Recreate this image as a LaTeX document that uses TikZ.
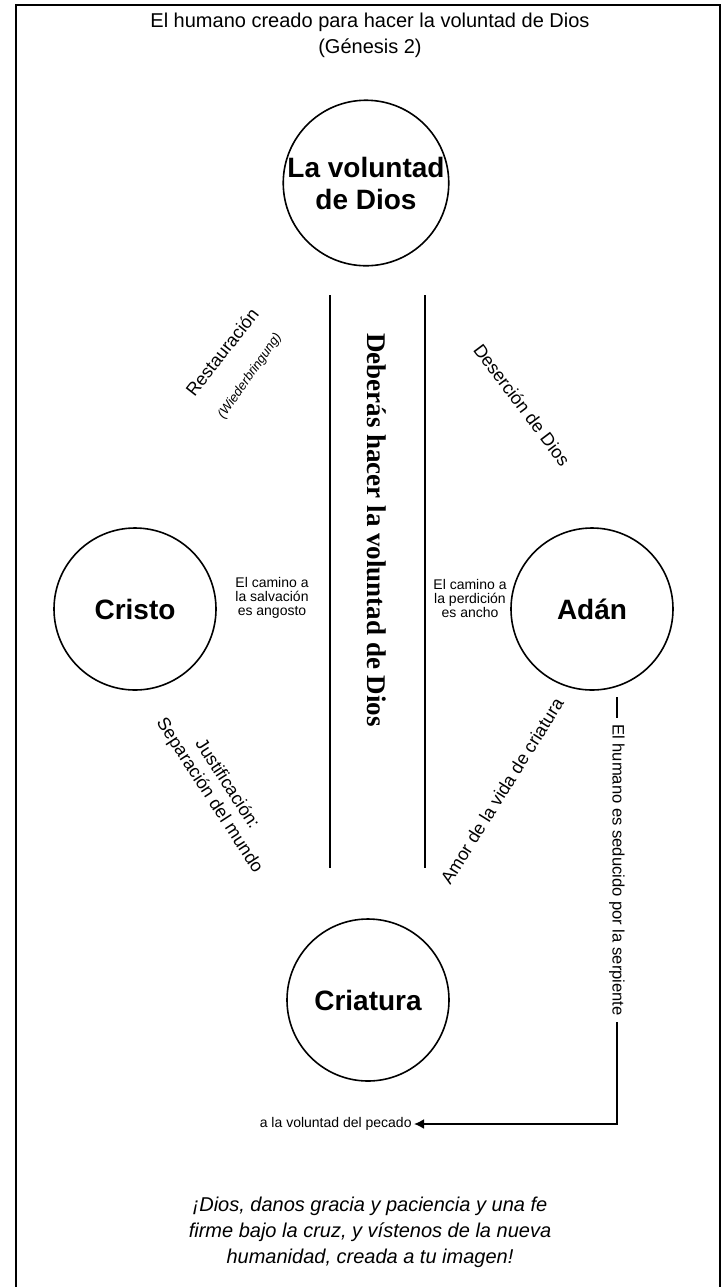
\documentclass[tikz,border=0pt]{standalone}
\usepackage{fontspec}
\setmainfont{Liberation Sans}
\newfontfamily\serifbold{Liberation Serif}
\usetikzlibrary{arrows.meta}
\begin{document}
\begin{tikzpicture}[x=0.5pt,y=-0.5pt,
  circ/.style={circle, draw, line width=0.8pt, minimum size=81pt, inner sep=0pt,
    font=\bfseries\fontsize{14}{16}\selectfont, align=center},
  lbl/.style={font=\fontsize{9}{10.5}\selectfont, inner sep=1pt},
  small/.style={font=\fontsize{7}{7}\selectfont, align=center, inner sep=1pt},
  rail/.style={line width=1pt},
  link/.style={line width=0.9pt}]
\useasboundingbox (0,0) rectangle (722,1287);
\draw[line width=1pt] (16,1287) -- (16,5) -- (720,5) -- (720,1287);

\node[font=\fontsize{10}{13}\selectfont, align=center] (title) at (370,35)
  {El humano creado para hacer la voluntad de Dios\\(Génesis 2)};

\node[circ] (dios) at (366,183) {La voluntad\\de Dios};
\node[circ] (cristo) at (135,609) {Cristo};
\node[circ] (adan) at (592,609) {Adán};
\node[circ] (criatura) at (368,1000) {Criatura};

\coordinate (la) at (330,295); \coordinate (lb) at (330,868);
\coordinate (ra) at (425,295); \coordinate (rb) at (425,868);
\draw[rail] (la) -- (lb);
\draw[rail] (ra) -- (rb);

\node[rotate=-90, font=\serifbold\bfseries\fontsize{13.5}{16}\selectfont] (must) at (377,530)
  {Deberás hacer la voluntad de Dios};

\node[lbl, rotate=52] (rest) at (222,352) {Restauración};
\node[font=\itshape\fontsize{6.5}{8}\selectfont, rotate=55, inner sep=1pt] (wieder) at (250,376) {(Wiederbringung)};
\node[lbl, rotate=-53] (deser) at (522,405) {Deserción de Dios};

\node[small] (salv) at (272,598) {El camino a\\la salvación\\es angosto};
\node[small] (perd) at (470,598) {El camino a\\la perdición\\es ancho};

\node[lbl, rotate=-57, align=center] (just) at (218,790) {Justificación:\\Separación del mundo};
\node[lbl, rotate=58] (amor) at (502,791) {Amor de la vida de criatura};

\coordinate (s0) at (617,697);
\coordinate (corner) at (617,1124);
\node[font=\fontsize{8.3}{9}\selectfont, rotate=-90, inner sep=3pt] (serp) at (617,870)
  {El humano es seducido por la serpiente};
\node[small, anchor=east] (pecado) at (414,1124) {a la voluntad del pecado};
\draw[link] (s0) -- (serp.west);
\draw[link, -{Latex[length=5pt,width=5pt]}] (serp.east) -- (corner) -- (pecado.east);

\node[font=\itshape\fontsize{10}{13}\selectfont, align=center] (prayer) at (370,1232)
  {¡Dios, danos gracia y paciencia y una fe\\firme bajo la cruz, y vístenos de la nueva\\humanidad, creada a tu imagen!};
\end{tikzpicture}
\end{document}
